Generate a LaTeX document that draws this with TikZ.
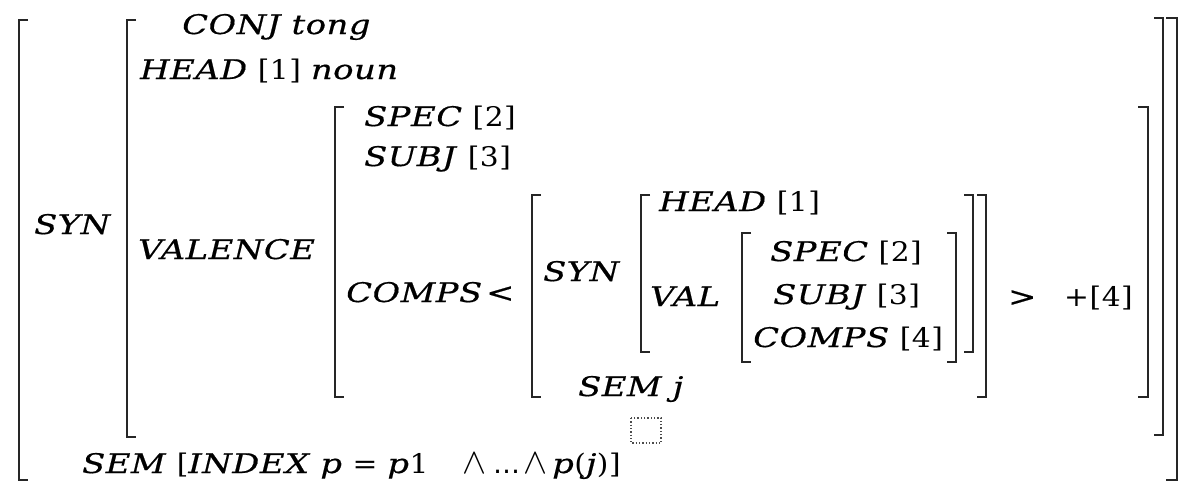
\documentclass[tikz,border=0pt]{standalone}
\usepackage{fontspec}
\setmainfont{DejaVu Serif}[LetterSpace=2,UprightFeatures={FakeStretch=1.1},ItalicFeatures={FakeStretch=1.25,FakeBold=0.6}]
\newfontfamily\avmsym{DejaVu Sans}
% left bracket: x, top, bottom, serif length
\newcommand\avmL[4]{\draw[brk] (#1+#4,#2) -- (#1,#2) -- (#1,#3) -- (#1+#4,#3);}
% right bracket: x, top, bottom, serif length
\newcommand\avmR[4]{\draw[brk] (#1-#4,#2) -- (#1,#2) -- (#1,#3) -- (#1-#4,#3);}
\newcommand\at[1]{\textit{#1}}
\newcommand\avmwedge{\scalebox{1.45}{$\wedge$}}
\begin{document}
\begin{tikzpicture}[x=1pt,y=-1pt,
  lbl/.style={anchor=base west,inner sep=0pt,font=\fontsize{27}{31}\selectfont},
  brk/.style={line width=1.6pt,black!85,line cap=butt}]
\useasboundingbox (0,0) rectangle (1183,491);

% brackets, outermost first
\avmL{19}{20}{480}{9}
\avmR{1177}{18}{480}{11}
\avmL{127}{20}{437}{9}
\avmR{1163}{18}{435}{9}
\avmL{335}{107}{397}{9}
\avmR{1148}{107}{397}{10}
\avmL{532}{195}{397}{9}
\avmR{986}{195}{397}{9}
\avmL{641}{195}{352}{9}
\avmR{973}{195}{352}{9}
\avmL{742}{233}{362}{9}
\avmR{956}{233}{362}{9}

% top level
\node[lbl] (syn) at (34,234) {\at{SYN}};
\node[lbl] (sem) at (82,473) {\at{SEM} [\at{INDEX p} = \at{p}1};
\node[lbl] (and1) at (462,473) {\avmwedge};
\node[lbl] (dots) at (493,473) {\avmsym …};
\node[lbl] (and2) at (523,473) {\avmwedge};
\node[lbl] (pj) at (552,473) {\at{p}(\at{j})]};

% SYN value
\node[lbl] (conj) at (182,34) {\at{CONJ tong}};
\node[lbl] (head) at (140,79) {\at{HEAD} [1] \at{noun}};
\node[lbl] (valence) at (138,259) {\at{VALENCE}};

% VALENCE value
\node[lbl] (spec) at (364,126) {\at{SPEC} [2]};
\node[lbl] (subj) at (364,166) {\at{SUBJ} [3]};
\node[lbl] (comps) at (346,302) {\at{COMPS}};
\node[lbl] (open) at (486,302) {\at{<}};

% list element
\node[lbl] (isyn) at (543,281) {\at{SYN}};
\node[lbl] (ihead) at (659,211) {\at{HEAD} [1]};
\node[lbl] (ival) at (650,306) {\at{VAL}};
\node[lbl] (ispec) at (770,261) {\at{SPEC} [2]};
\node[lbl] (isubj) at (773,304) {\at{SUBJ} [3]};
\node[lbl] (icomps) at (753,347) {\at{COMPS} [4]};
\node[lbl] (isem) at (578,396) {\at{SEM j}};
\node[lbl] (close) at (1008,306) {\at{>}};
\node[lbl] (plus) at (1064,306) {+[4]};

% empty placeholder box
\draw[dotted,line width=1.3pt,black!70] (631,418) rectangle (661,443);
\end{tikzpicture}
\end{document}
